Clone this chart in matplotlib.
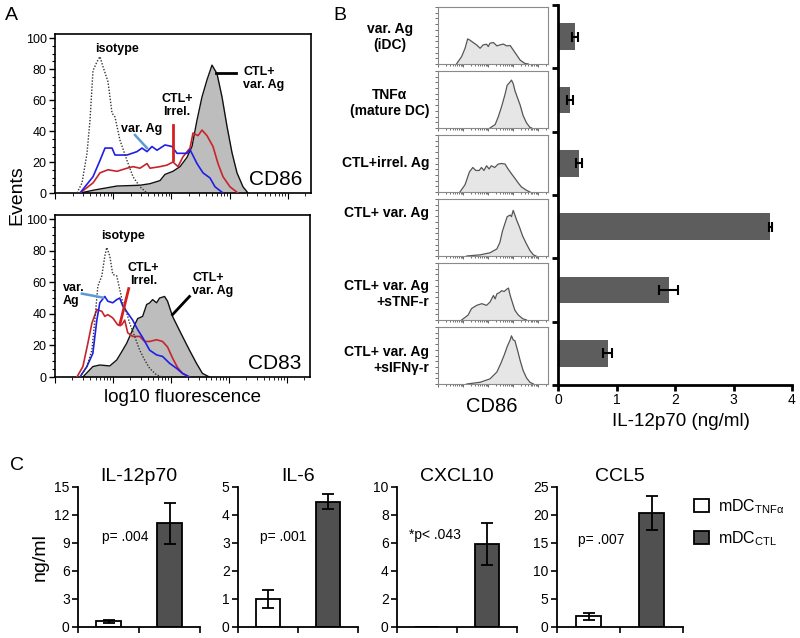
import numpy as np
import matplotlib.pyplot as plt
from matplotlib.patches import Patch

plt.rcParams['font.family'] = ['Liberation Sans', 'DejaVu Sans']

# ---- panel A: flow histograms (x = fluorescence channel, 58.2 channels per decade)
cd86_ctl_x = [25, 40, 62, 85, 95, 105, 110, 118, 125, 132, 137, 142, 147, 152, 157, 162, 167, 172, 177, 182, 188, 193]
cd86_ctl_y = [0, 2, 4.5, 5, 6, 8, 12, 14, 17, 23, 30, 47, 62, 73, 82.5, 77, 62, 43, 26, 13, 4, 0]
cd86_var_x = [25, 38, 45, 50, 57, 60, 72, 82, 87, 92, 97, 102, 110, 117, 122, 132, 135, 142, 148, 155, 160, 168]
cd86_var_y = [0, 10.5, 21, 29, 29, 24.5, 24.5, 26.7, 29, 26.7, 30, 27.6, 31, 30, 25.6, 25.6, 28, 19, 13, 9.7, 4, 0]
cd86_irr_x = [25, 38, 45, 53, 62, 72, 78, 85, 92, 95, 105, 112, 118, 123, 128, 135, 138, 143, 147, 152, 158, 163, 168, 175, 183]
cd86_irr_y = [0, 6.5, 13, 15, 14, 16, 17, 16, 19, 16, 17, 18, 20, 17, 23.4, 29, 38.7, 37, 40.6, 37, 30, 19, 10.5, 4, 0]
cd86_iso_x = [22, 27, 32, 35, 38, 42, 45, 48, 53, 57, 60, 65, 72, 78, 85, 92]
cd86_iso_y = [0, 6.5, 25.6, 47, 79, 84.7, 88, 81.5, 71.8, 51.6, 49, 34, 21, 10.5, 4, 0]

cd83_ctl_x = [28, 38, 45, 55, 62, 67, 72, 75, 80, 83, 88, 92, 95, 98, 102, 105, 110, 113, 118, 123, 128, 135, 142, 148, 155]
cd83_ctl_y = [0, 6.6, 7.6, 7, 10.8, 16, 21.4, 25.7, 33, 37, 38.4, 45.9, 46.9, 49, 47, 50, 51, 48, 38.4, 32, 25.7, 17, 8.7, 2.3, 0]
cd83_var_x = [25, 32, 38, 42, 45, 50, 53, 58, 62, 65, 68, 73, 78, 83, 88, 95, 102, 108, 115, 122, 128, 135]
cd83_var_y = [0, 6.6, 15, 36, 47, 51, 48, 47, 49, 50, 45, 40.5, 36, 30, 25, 17, 14, 13, 8.7, 5.5, 2.3, 0]
cd83_irr_x = [22, 28, 33, 37, 42, 47, 50, 53, 58, 63, 67, 70, 73, 78, 85, 90, 95, 102, 108, 113, 118, 123, 128, 135]
cd83_irr_y = [0, 6.6, 21.4, 34, 42.7, 41.6, 38.4, 39.5, 37.4, 33, 33, 36, 28, 25.7, 25.7, 22.5, 22.5, 23.6, 22.5, 19, 12, 6, 2.3, 0]
cd83_iso_x = [25, 32, 37, 40, 43, 47, 50, 52, 55, 58, 62, 65, 68, 72, 75, 80, 85, 90, 95, 102, 108]
cd83_iso_y = [0, 6.6, 17, 36, 57.5, 64, 76.6, 82, 76.6, 65, 64, 55.4, 47, 40.5, 34, 25.7, 17, 10.8, 5.5, 1.3, 0]

# ---- panel B: CD86 histograms per condition (% of max) and IL-12p70
b_labels = ['var. Ag\n(iDC)', 'TNF\u03b1\n(mature DC)', 'CTL+irrel. Ag', 'CTL+ var. Ag',
            'CTL+ var. Ag\n+sTNF-r', 'CTL+ var. Ag\n+sIFN\u03b3-r']
b_hist_x = [
    [43, 55, 63, 69, 74, 82, 90, 98, 105, 113, 117, 121, 129, 137, 144, 152, 160, 168, 175, 183, 191, 202, 210],
    [121, 133, 140, 148, 156, 161, 168, 171, 175, 179, 185, 191, 198, 206, 214, 218],
    [51, 63, 73, 81, 88, 96, 101, 107, 113, 119, 124, 132, 140, 148, 156, 163, 171, 179, 187, 194, 206, 214],
    [67, 98, 121, 137, 144, 150, 156, 161, 168, 171, 175, 179, 183, 189, 197, 206, 214, 222, 228],
    [55, 70, 78, 90, 102, 113, 121, 129, 133, 137, 144, 148, 154, 160, 164, 168, 174, 179, 187, 197, 206],
    [67, 98, 121, 137, 146, 154, 161, 168, 171, 175, 179, 185, 191, 198, 206, 214, 222],
]
b_hist_y = [
    [0, 13, 27.6, 44, 42, 37.6, 33.5, 27.6, 33.5, 34.7, 30.6, 36.5, 37.6, 31.8, 33.5, 35, 31.8, 32.4, 24.7, 15.9, 7, 1, 0],
    [0, 6, 19, 37.5, 59, 75, 81, 84, 78, 65.6, 53, 40.6, 22, 9, 1, 0],
    [0, 12.8, 35, 43, 37.8, 37.8, 43, 37.8, 46, 40.5, 46, 43, 49, 50, 49, 40.5, 32, 24, 15.6, 9, 3, 0],
    [0, 2, 5.6, 12.4, 23.7, 43.5, 57.6, 69, 71.8, 69, 80, 71.8, 63, 52, 35, 21, 9.6, 2, 0],
    [0, 8.6, 20, 25.7, 28.6, 25.7, 31.4, 43, 37, 45.7, 48.6, 51.4, 50, 54, 56, 43, 28.6, 17, 8.6, 2.3, 0],
    [0, 3, 9, 21, 35.7, 50.6, 65.5, 77.4, 84.5, 77.4, 76, 59.5, 41.7, 23.8, 10.7, 3, 0],
]
il12_b = [0.29, 0.21, 0.36, 3.63, 1.89, 0.85]
il12_b_err = [0.05, 0.05, 0.05, 0.02, 0.16, 0.075]

# ---- panel C: cytokines, mDC_TNFa vs mDC_CTL
c_titles = ['IL-12p70', 'IL-6', 'CXCL10', 'CCL5']
c_tnf = [0.6, 1.0, 0.0, 1.9]
c_tnf_err = [0.15, 0.32, 0.0, 0.6]
c_ctl = [11.1, 4.47, 5.95, 20.4]
c_ctl_err = [2.2, 0.27, 1.5, 3.0]
c_ymax = [15, 5, 10, 25]
c_ystep = [3, 1, 2, 5]
c_ptext = ['p= .004', 'p= .001', '*p< .043', 'p= .007']

W, H = 800, 638
fig = plt.figure(figsize=(8, 6.38), dpi=100)


def px_axes(l, t, r, b):
    return fig.add_axes([l / W, 1 - b / H, (r - l) / W, (b - t) / H])


DEC = 58.2


def log_xticks(ax, maj, mnr):
    major = [k * DEC for k in range(5)]
    minor = [(k + np.log10(m)) * DEC for k in range(5) for m in range(2, 10)
             if (k + np.log10(m)) * DEC < 256]
    ax.set_xticks(major)
    ax.set_xticks(minor, minor=True)
    ax.tick_params(axis='x', which='major', length=maj, labelbottom=False)
    ax.tick_params(axis='x', which='minor', length=mnr)


# ================= A =================
bold = dict(fontsize=9, fontweight='bold')
for i, (rect, name) in enumerate([((55, 34, 311, 193), 'CD86'), ((55, 215, 310, 377), 'CD83')]):
    ax = px_axes(*rect)
    if i == 0:
        cx, cy, vx, vy, rx, ry, ix, iy = (cd86_ctl_x, cd86_ctl_y, cd86_var_x, cd86_var_y,
                                          cd86_irr_x, cd86_irr_y, cd86_iso_x, cd86_iso_y)
    else:
        cx, cy, vx, vy, rx, ry, ix, iy = (cd83_ctl_x, cd83_ctl_y, cd83_var_x, cd83_var_y,
                                          cd83_irr_x, cd83_irr_y, cd83_iso_x, cd83_iso_y)
    ax.fill_between(cx, cy, color='#bdbdbd', lw=0, zorder=1)
    ax.plot(cx, cy, color='#111111', lw=1.0, zorder=2)
    ax.plot(rx, ry, color='#c8242b', lw=1.2, zorder=3)
    ax.plot(vx, vy, color='#1f1fe6', lw=1.2, zorder=4)
    ax.plot(ix, iy, color='#333333', lw=1.0, ls=(0, (1, 1.2)), zorder=5)
    ax.set_xlim(0, 256)
    ax.set_ylim(0, 102.6)
    ax.set_yticks(range(0, 101, 20))
    ax.set_yticks(range(0, 101, 5), minor=True)
    ax.tick_params(axis='y', which='major', length=4, width=1, labelsize=9, pad=2)
    ax.tick_params(axis='y', which='minor', length=2, width=0.8)
    log_xticks(ax, 4, 2.5)
    for s in ax.spines.values():
        s.set_linewidth(1.2)
    ax.text(247, 8.5, name, fontsize=15, ha='right', va='center')
    if i == 0:
        ax.text(62, 93, 'isotype', ha='center', va='center', **bold)
        ax.text(87, 41, 'var. Ag', ha='center', va='center', **bold)
        ax.plot([80, 92], [37.4, 29], color='#5b9bd5', lw=1.8, zorder=6)
        ax.text(122, 56.5, 'CTL+\nIrrel.', ha='center', va='center', linespacing=1.1, **bold)
        ax.plot([118, 118], [44, 21], color='#d42020', lw=2, zorder=6)
        ax.text(188, 74, 'CTL+\nvar. Ag', ha='left', va='center', linespacing=1.1, **bold)
        ax.plot([161, 181], [77.4, 77.4], color='black', lw=2, zorder=6)
    else:
        ax.text(68, 89, 'isotype', ha='center', va='center', **bold)
        ax.text(89, 65, 'CTL+\nIrrel.', ha='center', va='center', linespacing=1.1, **bold)
        ax.plot([74, 65], [56, 33], color='#d42020', lw=2, zorder=6)
        ax.text(8, 52.5, 'var.\nAg', ha='left', va='center', linespacing=1.1, **bold)
        ax.plot([27, 48], [52.8, 50.3], color='#5b9bd5', lw=1.8, zorder=6)
        ax.text(138, 58.6, 'CTL+\nvar. Ag', ha='left', va='center', linespacing=1.1, **bold)
        ax.plot([135, 118], [51, 39.5], color='black', lw=2, zorder=6)

fig.text(17 / W, 1 - 195 / H, 'Events', rotation=90, fontsize=14, ha='center', va='center')
fig.text(182 / W, 1 - 397 / H, 'log10 fluorescence', fontsize=13.5, ha='center', va='center')

# ================= B =================
row_top = [7 + 64 * k for k in range(6)]
label_x = [413, 429, 429, 429, 429, 429]
label_y = [37, 103, 163, 213, 294, 360]
label_ma = ['center', 'center', 'right', 'right', 'right', 'right']
for k in range(6):
    ax = px_axes(438, row_top[k], 548, row_top[k] + 57)
    ax.fill_between(b_hist_x[k], b_hist_y[k], color='#e6e6e6', lw=0)
    ax.plot(b_hist_x[k], b_hist_y[k], color='#555555', lw=0.9)
    ax.set_xlim(0, 256)
    ax.set_ylim(0, 100)
    ax.set_yticks(range(0, 101, 20))
    ax.set_yticks(range(0, 101, 10), minor=True)
    ax.tick_params(axis='y', which='both', length=2, width=0.6, color='#555555', labelleft=False)
    log_xticks(ax, 2.5, 1.5)
    ax.tick_params(axis='x', which='both', width=0.6, color='#555555')
    for s in ax.spines.values():
        s.set_linewidth(0.8)
        s.set_color('#8a8a8a')
    fig.text(label_x[k] / W, 1 - label_y[k] / H, b_labels[k], fontsize=10, fontweight='bold',
             ha='right', va='center', multialignment=label_ma[k], linespacing=1.15)

fig.text(492 / W, 1 - 406 / H, 'CD86', fontsize=14.5, ha='center', va='center')

axb = px_axes(558, 5, 792, 385)
axb.barh(np.arange(6) + 0.5, il12_b, height=0.42, color='#5d5d5d',
         xerr=il12_b_err, error_kw=dict(ecolor='black', elinewidth=1.5, capsize=3.5, capthick=1.5))
axb.set_ylim(6, 0)
axb.set_xlim(0, 4)
axb.set_yticks(range(7))
axb.set_yticklabels([])
axb.set_xticks(range(5))
axb.tick_params(axis='both', length=4, width=2)
axb.tick_params(axis='x', labelsize=10, pad=2)
axb.spines['top'].set_visible(False)
axb.spines['right'].set_visible(False)
axb.spines['left'].set_linewidth(2)
axb.spines['bottom'].set_linewidth(2)
fig.text(681 / W, 1 - 421 / H, 'IL-12p70 (ng/ml)', fontsize=13.5, ha='center', va='center')

# ================= C =================
c_rects = [(78, 487, 200, 627), (238, 487, 358, 627), (397, 487, 517, 627), (557, 487, 683, 627)]
c_ptxt_pos = [(0.2, 0.64), (0.18, 0.64), (0.1, 0.66), (0.17, 0.62)]
for k in range(4):
    ax = px_axes(*c_rects[k])
    ax.bar([0.5], [c_tnf[k]], width=0.41, color='white', edgecolor='black', lw=1.3,
           yerr=[c_tnf_err[k]] if c_tnf[k] > 0 else None,
           error_kw=dict(ecolor='black', elinewidth=1.3, capsize=4, capthick=1.3))
    ax.bar([1.5], [c_ctl[k]], width=0.41, color='#505050', edgecolor='black', lw=1.3,
           yerr=[c_ctl_err[k]], error_kw=dict(ecolor='black', elinewidth=1.3, capsize=4, capthick=1.3))
    ax.set_xlim(0, 2)
    ax.set_ylim(0, c_ymax[k])
    ax.set_xticks([0, 1, 2])
    ax.set_xticklabels([])
    ax.set_yticks(np.arange(0, c_ymax[k] + 0.01, c_ystep[k]))
    ax.tick_params(axis='both', length=4, width=1.2)
    ax.tick_params(axis='y', labelsize=10, pad=2)
    ax.spines['top'].set_visible(False)
    ax.spines['right'].set_visible(False)
    ax.spines['left'].set_linewidth(1.3)
    ax.spines['bottom'].set_linewidth(1.3)
    ax.set_title(c_titles[k], fontsize=14, pad=4)
    ax.text(c_ptxt_pos[k][0], c_ptxt_pos[k][1], c_ptext[k], transform=ax.transAxes,
            fontsize=10, ha='left', va='center')
    if k == 0:
        ax.set_ylabel('ng/ml', fontsize=14, labelpad=4)

fig.legend(handles=[Patch(facecolor='white', edgecolor='black', lw=1.3),
                    Patch(facecolor='#505050', edgecolor='black', lw=1.3)],
           labels=['mDC$_{\\mathregular{TNF\u03b1}}$', 'mDC$_{\\mathregular{CTL}}$'],
           loc='upper left', bbox_to_anchor=(680 / W, 1 - 483 / H), frameon=False,
           fontsize=11.5, handlelength=0.9, handleheight=0.9, labelspacing=0.8, handletextpad=0.6)

# panel letters
fig.text(5 / W, 1 - 15 / H, 'A', fontsize=14, va='center')
fig.text(333 / W, 1 - 15 / H, 'B', fontsize=14, va='center')
fig.text(10 / W, 1 - 466 / H, 'C', fontsize=14, va='center')

fig.savefig('out.png', dpi=100)
